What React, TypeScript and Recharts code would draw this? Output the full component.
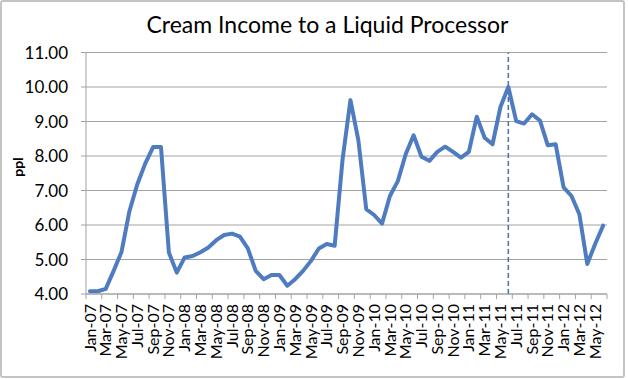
import React from 'react';
import { LineChart, Line, XAxis, YAxis, CartesianGrid, ReferenceLine } from 'recharts';

const months: string[] = [
  'Jan-07','Feb-07','Mar-07','Apr-07','May-07','Jun-07','Jul-07','Aug-07','Sep-07','Oct-07','Nov-07','Dec-07',
  'Jan-08','Feb-08','Mar-08','Apr-08','May-08','Jun-08','Jul-08','Aug-08','Sep-08','Oct-08','Nov-08','Dec-08',
  'Jan-09','Feb-09','Mar-09','Apr-09','May-09','Jun-09','Jul-09','Aug-09','Sep-09','Oct-09','Nov-09','Dec-09',
  'Jan-10','Feb-10','Mar-10','Apr-10','May-10','Jun-10','Jul-10','Aug-10','Sep-10','Oct-10','Nov-10','Dec-10',
  'Jan-11','Feb-11','Mar-11','Apr-11','May-11','Jun-11','Jul-11','Aug-11','Sep-11','Oct-11','Nov-11','Dec-11',
  'Jan-12','Feb-12','Mar-12','Apr-12','May-12','Jun-12',
];

const creamIncome: number[] = [
  4.08, 4.08, 4.15, 4.67, 5.22, 6.40, 7.18, 7.78, 8.26, 8.26, 5.20, 4.62,
  5.06, 5.10, 5.21, 5.35, 5.56, 5.71, 5.75, 5.66, 5.32, 4.67, 4.43, 4.55,
  4.55, 4.24, 4.43, 4.67, 4.96, 5.32, 5.45, 5.40, 7.90, 9.62, 8.46, 6.46,
  6.29, 6.04, 6.84, 7.27, 8.05, 8.60, 7.98, 7.86, 8.12, 8.27, 8.12, 7.95,
  8.12, 9.14, 8.53, 8.34, 9.42, 10.00, 9.01, 8.94, 9.21, 9.03, 8.31, 8.34,
  7.09, 6.84, 6.31, 4.87, 5.45, 5.98,
];

const yTicks: number[] = [4, 5, 6, 7, 8, 9, 10, 11];
const markerMonth = 'Jun-11';

const data = months.map((m, i) => ({ month: m, value: creamIncome[i] }));

const W = 628;
const H = 379;
const LEFT = 86;
const RIGHT = 607;
const STEP = (RIGHT - LEFT) / months.length;
const HALF = STEP / 2;
const FONT = 'Lato, "Liberation Sans", sans-serif';
const GRID = '#A3A3A3';

const XTick = (props: any) => {
  const { x, y, payload } = props;
  const lastLabeled = payload.value === months[months.length - 2];
  return (
    <g>
      <line x1={x - HALF} y1={y} x2={x - HALF} y2={y + 5} stroke={GRID} strokeWidth={1} />
      {lastLabeled ? (
        <line x1={x + 3 * HALF} y1={y} x2={x + 3 * HALF} y2={y + 5} stroke={GRID} strokeWidth={1} />
      ) : null}
      <text
        x={x}
        y={y + 10}
        transform={`rotate(-90, ${x}, ${y + 10})`}
        textAnchor="end"
        dy="0.35em"
        fill="#000"
        fontSize={16}
        fontFamily={FONT}
      >
        {payload.value}
      </text>
    </g>
  );
};

const PplLabel = () => (
  <text
    x={18}
    y={167}
    transform="rotate(-90, 18, 167)"
    textAnchor="middle"
    dy="0.35em"
    fontWeight="bold"
    fontSize={14}
    fontFamily={FONT}
    fill="#000"
  >
    ppl
  </text>
);

export default function App() {
  return (
    <div
      style={{
        position: 'absolute',
        left: 0,
        top: 0,
        width: 625,
        height: 378,
        boxSizing: 'border-box',
        border: '2px solid #C4C4C4',
        borderRadius: 3,
        background: '#fff',
      }}
    >
      <div
        style={{
          position: 'absolute',
          left: 0,
          top: 8,
          width: 651,
          textAlign: 'center',
          fontFamily: FONT,
          fontSize: 23,
          color: '#000',
          lineHeight: '28px',
        }}
      >
        Cream Income to a Liquid Processor
      </div>
      <div style={{ position: 'absolute', left: -2, top: -2 }}>
        <LineChart
          width={W}
          height={H}
          data={data}
          margin={{ top: 52.5, right: W - RIGHT, bottom: 0, left: 0 }}
        >
          <CartesianGrid vertical={false} stroke={GRID} strokeWidth={1} />
          <XAxis
            dataKey="month"
            interval={1}
            padding={{ left: HALF, right: HALF }}
            tickLine={false}
            tickSize={0}
            tickMargin={0}
            axisLine={{ stroke: GRID }}
            tick={<XTick />}
            height={85}
          />
          <YAxis
            domain={[4, 11]}
            ticks={yTicks}
            type="number"
            width={LEFT}
            tickFormatter={(v: number) => v.toFixed(2)}
            tickSize={5}
            tickMargin={13}
            axisLine={{ stroke: GRID }}
            tickLine={{ stroke: GRID }}
            tick={{ fill: '#000', fontSize: 17, fontFamily: FONT }}
            label={<PplLabel />}
          />
          <ReferenceLine
            x={markerMonth}
            stroke="#4A6FB0"
            strokeWidth={1.5}
            strokeDasharray="5 3"
          />
          <Line
            type="linear"
            dataKey="value"
            stroke="#4F7CC0"
            strokeWidth={4}
            dot={false}
            strokeLinejoin="round"
            strokeLinecap="round"
            isAnimationActive={false}
          />
        </LineChart>
      </div>
    </div>
  );
}
